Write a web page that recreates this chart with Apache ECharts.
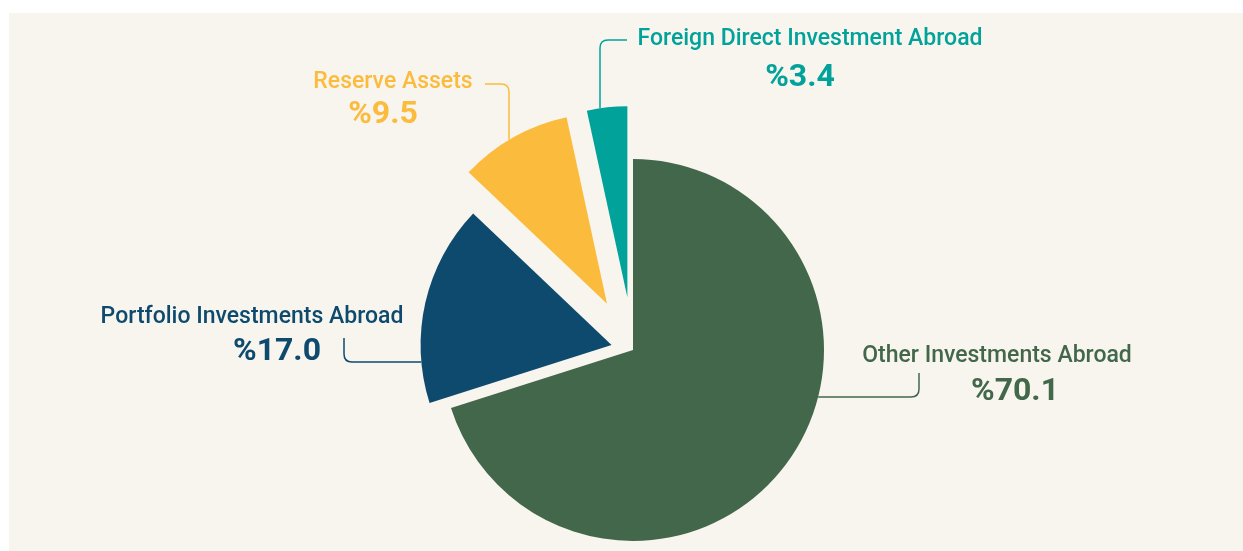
<!DOCTYPE html>
<html>
<head>
<meta charset="utf-8">
<script src="https://cdn.jsdelivr.net/npm/echarts@6/dist/echarts.min.js"></script>
<style>
  html, body { margin: 0; padding: 0; background: #ffffff; }
  #chart { width: 1243px; height: 551px; }
</style>
</head>
<body>
<div id="chart"></div>
<script>
// Composition of investments abroad (share of total, %)
const categories = [
  'Other Investments Abroad',
  'Portfolio Investments Abroad',
  'Reserve Assets',
  'Foreign Direct Investment Abroad'
];
const shares = [70.1, 17.0, 9.5, 3.4];

// Styling and layout
const colors = ['#43674a', '#0e4a6e', '#fbbb3d', '#00a29a'];
const explode = [0, 22, 53, 53];          // outward offset of each slice, px
const CX = 633, CY = 350, R = 191;         // pie centre and radius
const FONT = 'Roboto, "Noto Sans", sans-serif';

// Label placement: centre of the name line and of the percentage line
const labelPos = [
  { name: [997, 356], pct: [1015, 392] },
  { name: [252, 317], pct: [277, 352] },
  { name: [393, 82],  pct: [383, 115] },
  { name: [810, 39],  pct: [800, 78] }
];
// Leader lines: 'h' = horizontal run from the arc, then a vertical tail;
// 'v' = vertical run from the arc, then a horizontal tail.
const leaders = [
  { kind: 'h', y: 397, cornerX: 919, endY: 373 },
  { kind: 'h', y: 362, cornerX: 344, endY: 338 },
  { kind: 'v', x: 509, cornerY: 84, endX: 485 },
  { kind: 'v', x: 600, cornerY: 40, endX: 627 }
];

const total = shares.reduce((a, b) => a + b, 0);

// Centre of every slice after it has been pulled out along its bisector
const sliceCentres = [];
let cum = 0;
shares.forEach((v, i) => {
  const mid = (cum + v / 2) / total * 2 * Math.PI;   // clockwise from 12 o'clock
  cum += v;
  sliceCentres.push([CX + explode[i] * Math.sin(mid), CY - explode[i] * Math.cos(mid)]);
});

// One pie series per offset group, sharing the same angles
const groups = [...new Set(explode)];
const series = groups.map(off => ({
  type: 'pie',
  center: [CX, CY],
  radius: [0, R],
  startAngle: 90,
  clockwise: true,
  selectedMode: 'multiple',
  selectedOffset: off,
  silent: true,
  animation: false,
  avoidLabelOverlap: false,
  label: { show: false },
  labelLine: { show: false },
  emphasis: { disabled: true },
  data: categories.map((name, i) => {
    const mine = explode[i] === off;
    return {
      name,
      value: shares[i],
      selected: mine && off > 0,
      itemStyle: { color: mine ? colors[i] : 'rgba(0,0,0,0)', borderWidth: 0 }
    };
  })
}));

// Leader line graphics: straight runs joined by a rounded corner
const CORNER = 8;
function toward(p, q, d) {
  const len = Math.hypot(q[0] - p[0], q[1] - p[1]);
  return [p[0] + (q[0] - p[0]) * d / len, p[1] + (q[1] - p[1]) * d / len];
}
const graphics = [{
  type: 'rect',
  z: -10,
  shape: { x: 9, y: 13, width: 1234, height: 538 },
  style: { fill: '#f8f5ef' }
}];

leaders.forEach((L, i) => {
  const [sx, sy] = sliceCentres[i];
  let p0, p1, p2;
  if (L.kind === 'h') {
    const dx = Math.sqrt(R * R - (L.y - sy) * (L.y - sy));
    p0 = [L.cornerX > sx ? sx + dx : sx - dx, L.y];
    p1 = [L.cornerX, L.y];
    p2 = [L.cornerX, L.endY];
  } else {
    const dy = Math.sqrt(R * R - (L.x - sx) * (L.x - sx));
    p0 = [L.x, sy - dy];
    p1 = [L.x, L.cornerY];
    p2 = [L.endX, L.cornerY];
  }
  const a = toward(p1, p0, CORNER), b = toward(p1, p2, CORNER);
  const lineStyle = { stroke: colors[i], lineWidth: 1.5, fill: null };
  graphics.push(
    { type: 'line', shape: { x1: p0[0], y1: p0[1], x2: a[0], y2: a[1] }, style: lineStyle },
    { type: 'bezierCurve', shape: { x1: a[0], y1: a[1], cpx1: p1[0], cpy1: p1[1], x2: b[0], y2: b[1] }, style: lineStyle },
    { type: 'line', shape: { x1: b[0], y1: b[1], x2: p2[0], y2: p2[1] }, style: lineStyle }
  );

  const pos = labelPos[i];
  graphics.push(
    {
      type: 'text',
      style: {
        text: categories[i], x: pos.name[0], y: pos.name[1],
        fill: colors[i], font: '500 23px ' + FONT,
        align: 'center', verticalAlign: 'middle'
      }
    },
    {
      type: 'text',
      style: {
        text: '%' + shares[i].toFixed(1), x: pos.pct[0], y: pos.pct[1],
        fill: colors[i], font: 'bold 32px ' + FONT,
        align: 'center', verticalAlign: 'middle'
      }
    }
  );
});

const chart = echarts.init(document.getElementById('chart'), null, { renderer: 'canvas' });
chart.setOption({
  backgroundColor: '#ffffff',
  animation: false,
  series,
  graphic: graphics
});
</script>
</body>
</html>
